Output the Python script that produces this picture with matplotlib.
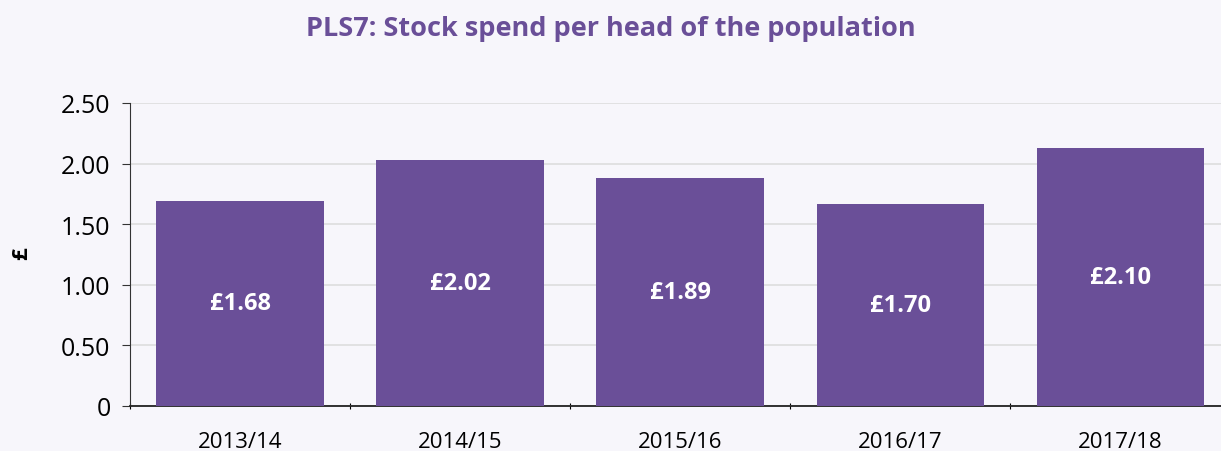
import matplotlib.pyplot as plt

years = ['2013/14', '2014/15', '2015/16', '2016/17', '2017/18']
bar_heights = [1.69, 2.03, 1.88, 1.67, 2.13]
bar_labels = ['£1.68', '£2.02', '£1.89', '£1.70', '£2.10']
yticks = [0, 0.5, 1.0, 1.5, 2.0, 2.5]
ytick_labels = ['0', '0.50', '1.00', '1.50', '2.00', '2.50']

purple = '#6a4f98'
bg = '#f7f6fb'

plt.rcParams['font.family'] = ['Open Sans', 'DejaVu Sans']

fig = plt.figure(figsize=(12.21, 4.52), dpi=100, facecolor=bg)
ax = fig.add_axes([0.1065, 0.1, 0.901, 0.67], facecolor=bg)

xs = range(len(years))
ax.bar(xs, bar_heights, width=0.76, color=purple, zorder=3)
for x, h, lab in zip(xs, bar_heights, bar_labels):
    ax.text(x, h / 2, lab, ha='center', va='center', color='white',
            fontsize=17, fontweight='bold', zorder=4)

ax.set_xlim(-0.5, 4.5)
ax.set_ylim(0, 2.5)
ax.set_yticks(yticks)
ax.set_yticklabels(ytick_labels, fontsize=18)
ax.set_xticks([x + 0.5 for x in range(-1, 5)], minor=False)
ax.set_xticklabels([])
ax.set_xticks(list(xs), minor=True)
ax.set_xticklabels(years, minor=True, fontsize=16)
ax.tick_params(axis='x', which='minor', length=0, pad=18)
ax.tick_params(axis='x', which='major', length=5, direction='inout')
ax.tick_params(axis='y', length=6, color='#333333', pad=8)

ax.grid(axis='y', color='#dddddd', linewidth=1.2, zorder=0)
for s in ['top', 'right']:
    ax.spines[s].set_visible(False)
ax.spines['left'].set_color('#333333')
ax.spines['bottom'].set_color('#222222')
ax.spines['bottom'].set_linewidth(1.3)

fig.text(22 / 1221, 0.438, '£', rotation=90, ha='center', va='center',
         fontsize=16, fontweight='bold')
fig.text(0.5, 0.935, 'PLS7: Stock spend per head of the population',
         ha='center', va='center', color=purple, fontsize=19.5, fontweight='bold')

fig.savefig('out.png', dpi=100, facecolor=bg)
